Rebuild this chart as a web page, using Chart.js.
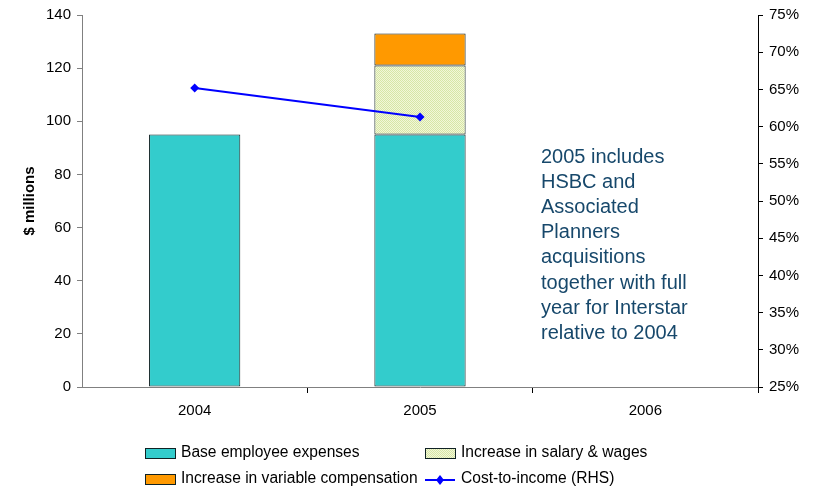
<!DOCTYPE html>
<html>
<head>
<meta charset="utf-8">
<script src="https://cdn.jsdelivr.net/npm/chart.js@4/dist/chart.umd.min.js"></script>
<style>
  html, body { margin: 0; padding: 0; background: #fff; }
  #wrap { width: 819px; height: 486px; position: relative; }
</style>
</head>
<body>
<div id="wrap"><canvas id="chart" width="819" height="486"></canvas></div>
<script>
// data
const years = ['2004', '2005', '2006'];
const baseExpenses = [95, 95, null];
const salaryIncrease = [null, 26, null];
const variableComp = [null, 12, null];
const costToIncome = [65.2, 61.3, null];

const noteLines = [
    '2005 includes', 'HSBC and', 'Associated', 'Planners',
    'acquisitions', 'together with full', 'year for Interstar', 'relative to 2004'
];

const FONT = 'Arial, "Liberation Sans", sans-serif';
const OUTLINE = '#102224';

// dotted pale green fill for the salary segment
function dotPattern(ctx) {
    const c = document.createElement('canvas');
    c.width = 2; c.height = 2;
    const g = c.getContext('2d');
    g.fillStyle = '#F2F7D8';
    g.fillRect(0, 0, 2, 2);
    g.fillStyle = '#D6E6A6';
    g.fillRect(0, 0, 1, 1);
    g.fillRect(1, 1, 1, 1);
    return ctx.createPattern(c, 'repeat');
}
const ctx0 = document.getElementById('chart').getContext('2d');
const salaryFill = dotPattern(ctx0);

const legendItems = [
    { label: 'Base employee expenses', type: 'box', fill: '#33CCCC', x: 145, y: 453 },
    { label: 'Increase in salary & wages', type: 'box', fill: salaryFill, x: 425, y: 453 },
    { label: 'Increase in variable compensation', type: 'box', fill: '#FF9900', x: 145, y: 479 },
    { label: 'Cost-to-income (RHS)', type: 'line', fill: '#0000FF', x: 425, y: 479 }
];

// y-axis title, side note and two-column legend
const extrasPlugin = {
    id: 'extras',
    afterDraw(chart) {
        const { ctx, chartArea } = chart;
        ctx.save();

        ctx.translate(30, (chartArea.top + chartArea.bottom) / 2);
        ctx.rotate(-Math.PI / 2);
        ctx.font = 'bold 15px ' + FONT;
        ctx.fillStyle = '#000';
        ctx.textAlign = 'center';
        ctx.textBaseline = 'middle';
        ctx.fillText('$ millions', 0, 0);
        ctx.setTransform(1, 0, 0, 1, 0, 0);

        ctx.font = '20px ' + FONT;
        ctx.fillStyle = '#17486B';
        ctx.textAlign = 'left';
        noteLines.forEach((t, i) => ctx.fillText(t, 541, 157 + i * 25.2));

        ctx.font = '15.6px ' + FONT;
        legendItems.forEach(it => {
            if (it.type === 'box') {
                ctx.fillStyle = it.fill;
                ctx.fillRect(it.x, it.y - 5, 30, 10);
                ctx.strokeStyle = OUTLINE;
                ctx.lineWidth = 1;
                ctx.strokeRect(it.x + 0.5, it.y - 4.5, 30, 10);
            } else {
                ctx.strokeStyle = it.fill;
                ctx.lineWidth = 2;
                ctx.beginPath();
                ctx.moveTo(it.x, it.y + 1);
                ctx.lineTo(it.x + 30, it.y + 1);
                ctx.stroke();
                ctx.fillStyle = it.fill;
                ctx.beginPath();
                ctx.moveTo(it.x + 15, it.y - 4);
                ctx.lineTo(it.x + 19, it.y + 1);
                ctx.lineTo(it.x + 15, it.y + 6);
                ctx.lineTo(it.x + 11, it.y + 1);
                ctx.closePath();
                ctx.fill();
            }
            ctx.fillStyle = '#000';
            ctx.fillText(it.label, it.x + 36, it.y);
        });
        ctx.restore();
    }
};

const barStyle = {
    borderColor: OUTLINE,
    borderWidth: 1,
    borderSkipped: false,
    stack: 's',
    order: 1
};

new Chart(ctx0, {
    type: 'bar',
    data: {
        labels: years,
        datasets: [
            {
                type: 'line',
                label: 'Cost-to-income (RHS)',
                data: costToIncome,
                yAxisID: 'y1',
                borderColor: '#0000FF',
                backgroundColor: '#0000FF',
                borderWidth: 2,
                pointStyle: 'rectRot',
                pointRadius: 4.5,
                pointBorderWidth: 0,
                tension: 0,
                order: 0
            },
            Object.assign({ label: 'Base employee expenses', data: baseExpenses, backgroundColor: '#33CCCC' }, barStyle),
            Object.assign({ label: 'Increase in salary & wages', data: salaryIncrease, backgroundColor: salaryFill }, barStyle),
            Object.assign({ label: 'Increase in variable compensation', data: variableComp, backgroundColor: '#FF9900' }, barStyle)
        ]
    },
    options: {
        responsive: false,
        animation: false,
        layout: { padding: { top: 15, left: 0, right: 0, bottom: 0 } },
        datasets: {
            bar: { categoryPercentage: 1, barPercentage: 0.405 }
        },
        plugins: {
            legend: { display: false },
            tooltip: { enabled: false }
        },
        scales: {
            x: {
                stacked: true,
                grid: {
                    offset: true,
                    drawOnChartArea: false,
                    tickLength: 6,
                    // only the ticks between categories are visible
                    color: c => (c.index === 0 || c.index === years.length) ? 'rgba(0,0,0,0)' : '#000'
                },
                border: { color: '#808080', width: 1 },
                ticks: { color: '#000', font: { family: FONT, size: 15 }, padding: 9 },
                afterFit(scale) { scale.height = 99; }
            },
            y: {
                stacked: true,
                min: 0,
                max: 140,
                position: 'left',
                grid: { drawOnChartArea: false, tickLength: 5, color: '#808080' },
                border: { color: '#808080', width: 1 },
                ticks: { stepSize: 20, color: '#000', font: { family: FONT, size: 15 }, padding: 6 },
                afterFit(scale) { scale.width = 82; }
            },
            y1: {
                min: 25,
                max: 75,
                position: 'right',
                grid: { drawOnChartArea: false, tickLength: 5, color: '#000' },
                border: { color: '#000', width: 1 },
                ticks: {
                    stepSize: 5,
                    color: '#000',
                    font: { family: FONT, size: 15 },
                    padding: 6,
                    callback: v => v + '%'
                },
                afterFit(scale) { scale.width = 61; }
            }
        }
    },
    plugins: [extrasPlugin]
});
</script>
</body>
</html>
